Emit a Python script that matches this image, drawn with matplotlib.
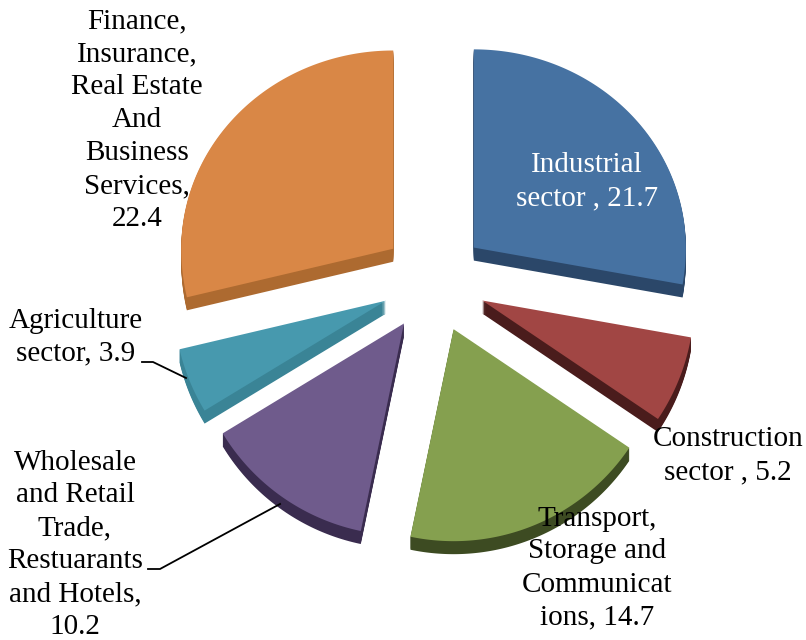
import numpy as np
import matplotlib.pyplot as plt
from matplotlib.patches import Polygon

# sector shares, clockwise from 12 o'clock
sectors = ['Industrial sector', 'Construction sector', 'Transport, Storage and Communications',
           'Wholesale and Retail Trade, Restuarants and Hotels', 'Agriculture sector',
           'Finance, Insurance, Real Estate And Business Services']
values = [21.7, 5.2, 14.7, 10.2, 3.9, 22.4]
label_fmt = ['Industrial\nsector , {}',
             'Construction\nsector , {}',
             'Transport,\nStorage and\nCommunicat\nions, {}',
             'Wholesale\nand Retail\nTrade,\nRestuarants\nand Hotels,\n{}',
             'Agriculture\nsector, {}',
             'Finance,\nInsurance,\nReal Estate\nAnd\nBusiness\nServices,\n{}']

top_colors = ['#4672a2', '#a14644', '#85a04f', '#6f5b8c', '#4799ae', '#d98746']
side_colors = ['#2b4769', '#4a1c1c', '#3d4b22', '#3a2c4f', '#3a8496', '#ad6a30']

fig = plt.figure(figsize=(8.06, 6.4), dpi=100)
ax = fig.add_axes([0, 0, 1, 1])
ax.set_xlim(0, 806)
ax.set_ylim(640, 0)
ax.axis('off')

cx, cy = 434, 281
radius = 212
squash_far = 0.935   # back half of the disc looks shorter
squash_near = 1.0
explode = 52
depth = 13


def wedge_outline(theta1, theta2, ox, oy):
    t = np.radians(np.linspace(theta1, theta2, 120))
    xs = radius * np.cos(t)
    ys = radius * np.sin(t)
    ys = np.where(ys > 0, ys * squash_far, ys * squash_near)
    pts = np.column_stack([np.r_[0, xs], np.r_[0, -ys]])
    return pts + [ox, oy]


bounds = 360 * np.cumsum([0] + values) / sum(values)
wedges = []
for i in range(len(values)):
    theta1 = 90 - bounds[i + 1]
    theta2 = 90 - bounds[i]
    mid = np.radians((theta1 + theta2) / 2)
    ox = cx + explode * np.cos(mid)
    oy = cy - explode * np.sin(mid)
    wedges.append(wedge_outline(theta1, theta2, ox, oy))

# extruded sides first, then the top faces
for pts, col in zip(wedges, side_colors):
    for dz in range(depth, 0, -1):
        ax.add_patch(Polygon(pts + [0, dz], closed=True, facecolor=col,
                             edgecolor='none', zorder=1))
for pts, col in zip(wedges, top_colors):
    ax.add_patch(Polygon(pts, closed=True, facecolor=col, edgecolor='none', zorder=2))

label_pos = [(587, 182), (728, 456), (597, 568), (75, 545), (76, 337), (137, 120)]
label_col = ['white', 'black', 'black', 'black', 'black', 'black']
for fmt, v, (lx, ly), c in zip(label_fmt, values, label_pos, label_col):
    ax.text(lx, ly, fmt.format(v), ha='center', va='center', color=c,
            fontsize=21, family='Liberation Serif', linespacing=1.35, zorder=3)

# leader lines for the two outside labels on the left
ax.plot([142, 153, 186], [362, 362, 378], color='black', lw=1.3, zorder=3)
ax.plot([148, 160, 280], [569, 569, 504], color='black', lw=1.3, zorder=3)

fig.savefig('out.png', dpi=100)
